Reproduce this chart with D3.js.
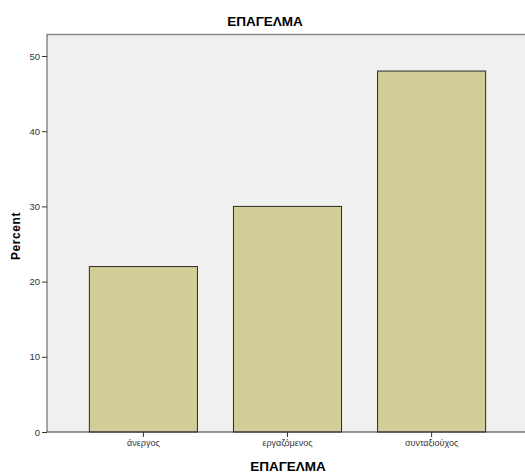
<!DOCTYPE html>
<html><head><meta charset="utf-8">
<script src="https://cdn.jsdelivr.net/npm/d3@7"></script>
<style>body{margin:0;background:#fff}svg{display:block}</style>
</head><body>
<script>
const categories = ["άνεργος", "εργαζόμενος", "συνταξιούχος"];
const values = [22, 30, 48];
const yTicks = [0, 10, 20, 30, 40, 50];
const chartTitle = "ΕΠΑΓΕΛΜΑ";
const xTitle = "ΕΠΑΓΕΛΜΑ";
const yTitle = "Percent";

const W = 525, H = 474;
const m = {left: 47, top: 34, right: -3, bottom: 42};
const svg = d3.select("body").append("svg").attr("width", W).attr("height", H)
  .style("font-family", "'Liberation Sans', Arial, sans-serif");

const x0 = m.left, x1 = W - m.right, y0 = H - m.bottom, yTop = m.top;
const x = d3.scaleBand().domain(categories).range([x0, x1]).paddingInner(0.25).paddingOuter(0.294);
const y = d3.scaleLinear().domain([0, 50]).range([y0, 56]);

svg.append("rect").attr("x", x0).attr("y", yTop).attr("width", x1 - x0).attr("height", y0 - yTop)
  .attr("fill", "#f0f0f0");
svg.append("line").attr("x1", x0).attr("x2", x1).attr("y1", yTop + 0.5).attr("y2", yTop + 0.5)
  .attr("stroke", "#8a8a8a").attr("stroke-width", 1.5);

svg.selectAll("rect.bar").data(values).join("rect").attr("class", "bar")
  .attr("x", (d, i) => x(categories[i]))
  .attr("y", d => y(d))
  .attr("width", x.bandwidth())
  .attr("height", d => y(0) - y(d))
  .attr("fill", "#d3ce98")
  .attr("stroke", "#2b2b2b").attr("stroke-width", 1);

const ya = svg.append("g").attr("transform", `translate(${x0},0)`)
  .call(d3.axisLeft(y).tickValues(yTicks).tickSize(5).tickPadding(2));
ya.select(".domain").attr("d", `M0,${yTop}V${y0}`).attr("stroke", "#555");
ya.selectAll("text").attr("font-size", 9.5).attr("fill", "#333");
ya.selectAll(".tick line").attr("stroke", "#333");

const xa = svg.append("g").attr("transform", `translate(0,${y0})`)
  .call(d3.axisBottom(x).tickSize(5).tickPadding(3));
xa.select(".domain").attr("d", `M${x0},0H${x1}`).attr("stroke", "#333");
xa.selectAll("text").attr("font-size", 9).attr("fill", "#333");
xa.selectAll(".tick line").attr("stroke", "#333");

svg.append("text").attr("x", 265).attr("y", 26).attr("text-anchor", "middle")
  .attr("font-size", 13.5).attr("font-weight", "bold").text(chartTitle);
svg.append("text").attr("x", 288).attr("y", 471).attr("text-anchor", "middle")
  .attr("font-size", 13.5).attr("font-weight", "bold").text(xTitle);
svg.append("text").attr("transform", "translate(20,236) rotate(-90)").attr("text-anchor", "middle")
  .attr("font-size", 12).attr("font-weight", "bold").attr("letter-spacing", 0.6).text(yTitle);
</script>
</body></html>
